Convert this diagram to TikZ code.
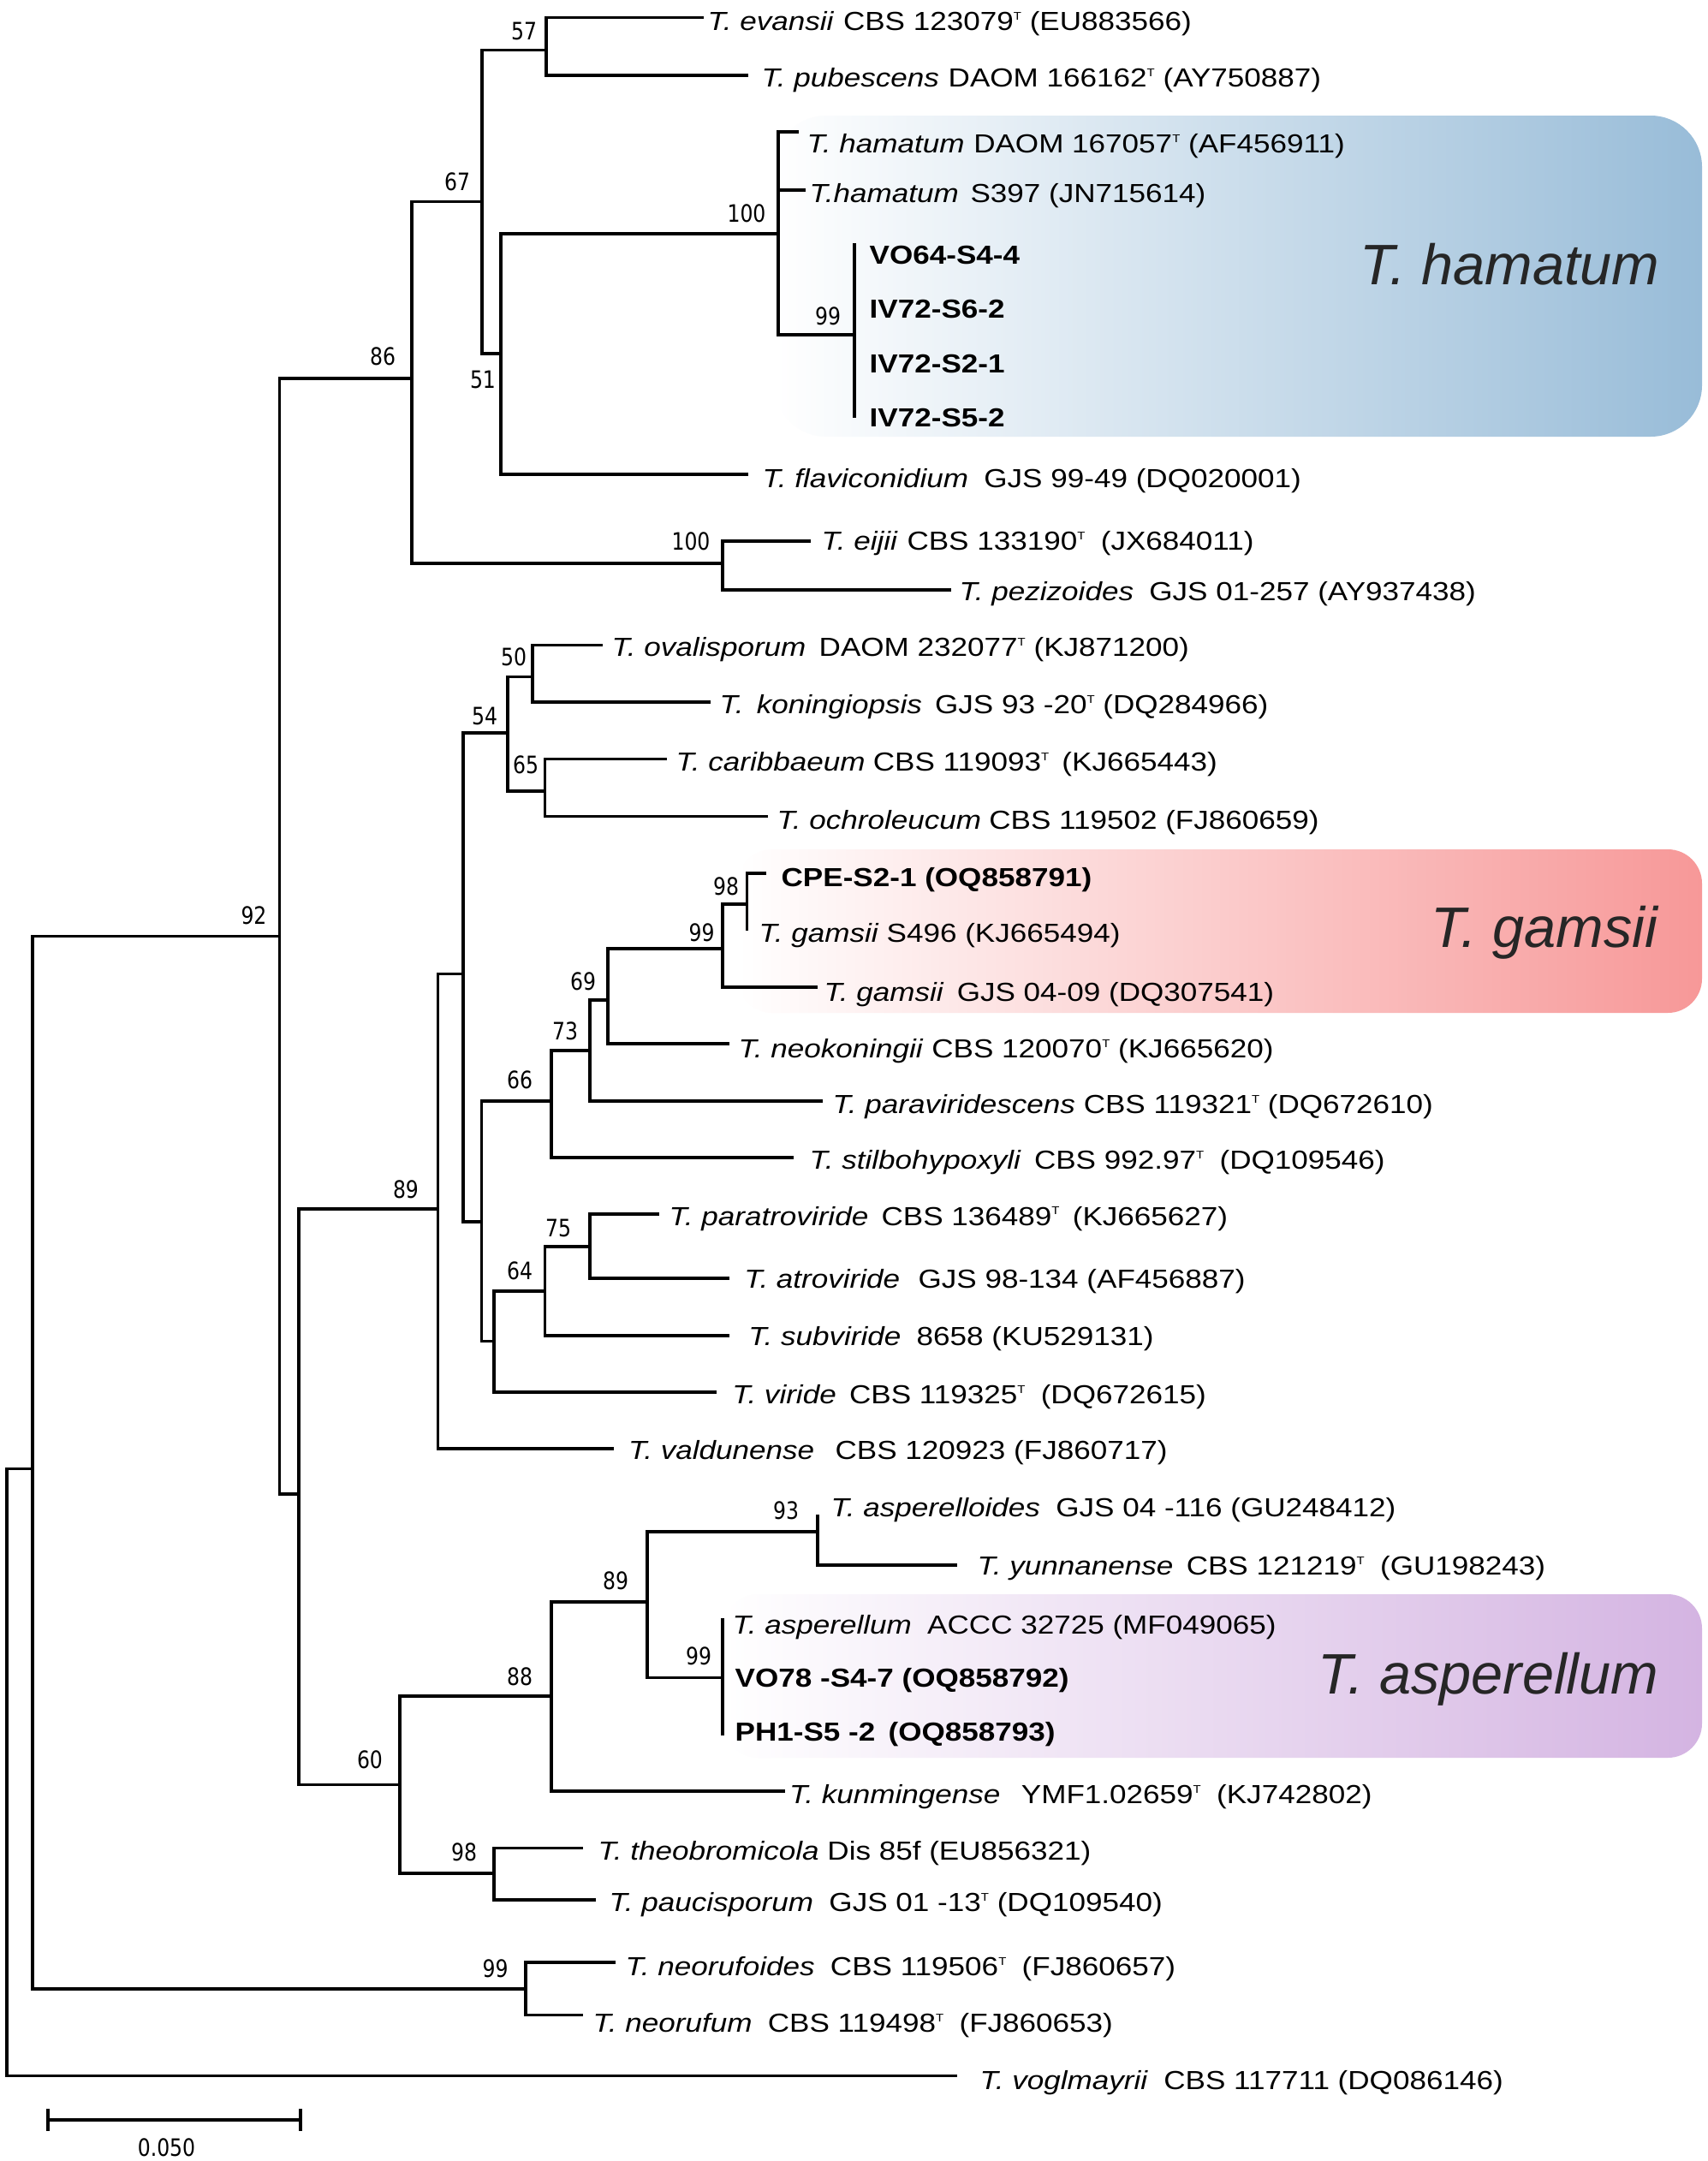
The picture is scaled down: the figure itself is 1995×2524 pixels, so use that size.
\documentclass[tikz,border=0pt]{standalone}
\usepackage{fontspec}
\setmainfont{Liberation Sans}[FakeStretch=1.15]
\newfontfamily\bsfont{DejaVu Sans}[FakeStretch=0.84]
\newfontfamily\cladefont{Liberation Sans}
\newcommand\typ{\raisebox{3.8pt}{\fontsize{3.9pt}{4pt}\selectfont T}}
\definecolor{hamblue}{RGB}{152,188,216}
\definecolor{gampink}{RGB}{247,152,152}
\definecolor{asplilac}{RGB}{212,180,226}
\begin{document}
\begin{tikzpicture}[x=0.3pt,y=-0.3pt,
  br/.style={line width=1.1pt, line cap=rect},
  tax/.style={anchor=base west, inner sep=0pt, font=\fontsize{9.15pt}{11pt}\selectfont},
  bs/.style={inner sep=0pt, font=\bsfont\fontsize{8.4pt}{10pt}\selectfont},
  clade/.style={anchor=base west, inner sep=0pt, font=\cladefont\itshape\fontsize{20pt}{24pt}\selectfont, text=black!85}]
\useasboundingbox (0,0) rectangle (1995,2524);
\fill[white] (0,0) rectangle (1995,2524);
% clade boxes
\shade[left color=white, right color=hamblue, rounded corners=18pt] (905,135) rectangle (1988,510);
\shade[left color=white, right color=gampink, rounded corners=12pt] (862,992) rectangle (1988,1183);
\shade[left color=white, right color=asplilac, rounded corners=12pt] (846,1862) rectangle (1988,2053);
% internal nodes
\coordinate (R) at (8,2070);
\coordinate (N38) at (38,1715.5);
\coordinate (N92) at (326.5,1093.5);
\coordinate (N86) at (481,442);
\coordinate (N67) at (563,235.5);
\coordinate (N57) at (638,58.4);
\coordinate (N51) at (585,413);
\coordinate (N100h) at (909,273);
\coordinate (N99h) at (998,391);
\coordinate (N100e) at (844,658);
\coordinate (NE) at (349,1745);
\coordinate (NA) at (511.5,1412);
\coordinate (NB) at (541,1137.5);
\coordinate (N54) at (593,856);
\coordinate (N50) at (622,790.6);
\coordinate (N65) at (636.5,924);
\coordinate (NC) at (562.5,1427);
\coordinate (N66) at (644,1286);
\coordinate (N73) at (689,1227);
\coordinate (N69) at (710,1168);
\coordinate (N99g) at (844,1108);
\coordinate (N98g) at (872.5,1056);
\coordinate (ND) at (577,1566.5);
\coordinate (N64) at (636.5,1508);
\coordinate (N75) at (689,1456);
\coordinate (N60) at (467,2084.5);
\coordinate (N88) at (644,1981);
\coordinate (N89b) at (756,1871);
\coordinate (N93) at (955,1789);
\coordinate (N99a) at (844,1959.5);
\coordinate (N98t) at (577,2188);
\coordinate (N99r) at (614,2323);
% tip ends
\coordinate (e1) at (820,20.4);
\coordinate (e2) at (872,88);
\coordinate (e3) at (931,154);
\coordinate (e4) at (939,222);
\coordinate (h5) at (998,286);
\coordinate (h8) at (998,486);
\coordinate (e9) at (872,554);
\coordinate (e10) at (945,632);
\coordinate (e11) at (1109,689);
\coordinate (e12) at (702,753.5);
\coordinate (e13) at (828,820);
\coordinate (e14) at (777,886.5);
\coordinate (e15) at (895,953.5);
\coordinate (e16) at (893,1020);
\coordinate (e17) at (872.5,1085);
\coordinate (e18) at (953.5,1153);
\coordinate (e19) at (850,1219);
\coordinate (e20) at (959,1286);
\coordinate (e21) at (925,1352);
\coordinate (e22) at (768.5,1418);
\coordinate (e23) at (850,1493);
\coordinate (e24) at (850,1560);
\coordinate (e25) at (835.5,1626);
\coordinate (e26) at (715.5,1692);
\coordinate (e27) at (955,1770.6);
\coordinate (e28) at (1116.5,1828);
\coordinate (a1) at (844,1892);
\coordinate (a3) at (844,2025);
\coordinate (e32) at (915,2092);
\coordinate (e33) at (679,2158.6);
\coordinate (e34) at (694,2219);
\coordinate (e35) at (717.5,2292);
\coordinate (e36) at (679,2353.4);
\coordinate (e37) at (1116.5,2424.6);
% branches
\draw[br] (R) |- (N38); \draw[br] (R) |- (e37);
\draw[br] (N38) |- (N92); \draw[br] (N38) |- (N99r);
\draw[br] (N92) |- (N86); \draw[br] (N92) |- (NE);
\draw[br] (N86) |- (N67); \draw[br] (N86) |- (N100e);
\draw[br] (N67) |- (N57); \draw[br] (N67) |- (N51);
\draw[br] (N57) |- (e1); \draw[br] (N57) |- (e2);
\draw[br] (N51) |- (N100h); \draw[br] (N51) |- (e9);
\draw[br] (N100h) |- (e3); \draw[br] (N100h) |- (e4); \draw[br] (N100h) |- (N99h);
\draw[br] (h5) -- (h8);
\draw[br] (N100e) |- (e10); \draw[br] (N100e) |- (e11);
\draw[br] (NE) |- (NA); \draw[br] (NE) |- (N60);
\draw[br] (NA) |- (NB); \draw[br] (NA) |- (e26);
\draw[br] (NB) |- (N54); \draw[br] (NB) |- (NC);
\draw[br] (N54) |- (N50); \draw[br] (N54) |- (N65);
\draw[br] (N50) |- (e12); \draw[br] (N50) |- (e13);
\draw[br] (N65) |- (e14); \draw[br] (N65) |- (e15);
\draw[br] (NC) |- (N66); \draw[br] (NC) |- (ND);
\draw[br] (N66) |- (N73); \draw[br] (N66) |- (e21);
\draw[br] (N73) |- (N69); \draw[br] (N73) |- (e20);
\draw[br] (N69) |- (N99g); \draw[br] (N69) |- (e19);
\draw[br] (N99g) |- (N98g); \draw[br] (N99g) |- (e18);
\draw[br] (N98g) |- (e16); \draw[br] (N98g) -- (e17);
\draw[br] (ND) |- (N64); \draw[br] (ND) |- (e25);
\draw[br] (N64) |- (N75); \draw[br] (N64) |- (e24);
\draw[br] (N75) |- (e22); \draw[br] (N75) |- (e23);
\draw[br] (N60) |- (N88); \draw[br] (N60) |- (N98t);
\draw[br] (N88) |- (N89b); \draw[br] (N88) |- (e32);
\draw[br] (N89b) |- (N93); \draw[br] (N89b) |- (N99a);
\draw[br] (N93) -- (e27); \draw[br] (N93) |- (e28);
\draw[br] (a1) -- (a3);
\draw[br] (N98t) |- (e33); \draw[br] (N98t) |- (e34);
\draw[br] (N99r) |- (e35); \draw[br] (N99r) |- (e36);
% taxa
\node[tax] (t1) at (826,35.9) {\textit{T. evansii}\hspace{0.35em}CBS 123079\typ{} (EU883566)};
\node[tax] (t2) at (889,101.9) {\textit{T. pubescens}\hspace{0.35em}DAOM 166162\typ{} (AY750887)};
\node[tax] (t3) at (942,178.9) {\textit{T. hamatum}\hspace{0.35em}DAOM 167057\typ{} (AF456911)};
\node[tax] (t4) at (945,236.4) {\textit{T.hamatum}\hspace{0.45em}S397 (JN715614)};
\node[tax] (t5) at (1015,308.9) {\textbf{VO64-S4-4}};
\node[tax] (t6) at (1015,371.9) {\textbf{IV72-S6-2}};
\node[tax] (t7) at (1015,435.4) {\textbf{IV72-S2-1}};
\node[tax] (t8) at (1015,498.9) {\textbf{IV72-S5-2}};
\node[tax] (t9) at (890,569.9) {\textit{T. flaviconidium}\hspace{0.6em}GJS 99-49 (DQ020001)};
\node[tax] (t10) at (959,642.9) {\textit{T. eijii}\hspace{0.35em}CBS 133190\typ{}\hspace{0.6em}(JX684011)};
\node[tax] (t11) at (1120,701.9) {\textit{T. pezizoides}\hspace{0.6em}GJS 01-257 (AY937438)};
\node[tax] (t12) at (714,766.9) {\textit{T. ovalisporum}\hspace{0.5em}DAOM 232077\typ{} (KJ871200)};
\node[tax] (t13) at (840,833.9) {\textit{T.\hspace{0.5em}koningiopsis}\hspace{0.5em}GJS 93 -20\typ{} (DQ284966)};
\node[tax] (t14) at (789,900.9) {\textit{T. caribbaeum}\hspace{0.3em}CBS 119093\typ{}\hspace{0.5em}(KJ665443)};
\node[tax] (t15) at (907,968.9) {\textit{T. ochroleucum}\hspace{0.3em}CBS 119502 (FJ860659)};
\node[tax] (t16) at (912,1035.9) {\textbf{CPE-S2-1 (OQ858791)}};
\node[tax] (t17) at (886,1100.9) {\textit{T. gamsii}\hspace{0.3em}S496 (KJ665494)};
\node[tax] (t18) at (962,1169.9) {\textit{T. gamsii}\hspace{0.5em}GJS 04-09 (DQ307541)};
\node[tax] (t19) at (862,1235.9) {\textit{T. neokoningii} CBS 120070\typ{} (KJ665620)};
\node[tax] (t20) at (972,1300.9) {\textit{T. paraviridescens} CBS 119321\typ{} (DQ672610)};
\node[tax] (t21) at (945,1365.9) {\textit{T. stilbohypoxyli}\hspace{0.5em}CBS 992.97\typ{}\hspace{0.6em}(DQ109546)};
\node[tax] (t22) at (781,1431.4) {\textit{T. paratroviride}\hspace{0.5em}CBS 136489\typ{}\hspace{0.5em}(KJ665627)};
\node[tax] (t23) at (868.6,1504.9) {\textit{T. atroviride}\hspace{0.7em}GJS 98-134 (AF456887)};
\node[tax] (t24) at (873.7,1571.9) {\textit{T. subviride}\hspace{0.6em}8658 (KU529131)};
\node[tax] (t25) at (854.6,1639.9) {\textit{T. viride}\hspace{0.5em}CBS 119325\typ{}\hspace{0.6em}(DQ672615)};
\node[tax] (t26) at (733.4,1704.9) {\textit{T. valdunense}\hspace{0.8em}CBS 120923 (FJ860717)};
\node[tax] (t27) at (970,1771.9) {\textit{T. asperelloides}\hspace{0.6em}GJS 04 -116 (GU248412)};
\node[tax] (t28) at (1141,1839.9) {\textit{T. yunnanense}\hspace{0.5em}CBS 121219\typ{}\hspace{0.6em}(GU198243)};
\node[tax] (t29) at (855,1908.9) {\textit{T. asperellum}\hspace{0.6em}ACCC 32725 (MF049065)};
\node[tax] (t30) at (858,1970.4) {\textbf{VO78 -S4-7 (OQ858792)}};
\node[tax] (t31) at (858,2033.9) {\textbf{PH1-S5 -2\hspace{0.5em}(OQ858793)}};
\node[tax] (t32) at (921.5,2106.9) {\textit{T. kunmingense}\hspace{0.8em}YMF1.02659\typ{}\hspace{0.6em}(KJ742802)};
\node[tax] (t33) at (698,2172.4) {\textit{T. theobromicola} Dis 85f (EU856321)};
\node[tax] (t34) at (711,2232.9) {\textit{T. paucisporum}\hspace{0.6em}GJS 01 -13\typ{} (DQ109540)};
\node[tax] (t35) at (730,2307.9) {\textit{T. neorufoides}\hspace{0.6em}CBS 119506\typ{}\hspace{0.6em}(FJ860657)};
\node[tax] (t36) at (692,2373.9) {\textit{T. neorufum}\hspace{0.6em}CBS 119498\typ{}\hspace{0.6em}(FJ860653)};
\node[tax] (t37) at (1144,2440.4) {\textit{T. voglmayrii}\hspace{0.6em}CBS 117711 (DQ086146)};
% clade labels
\node[clade] (cH) at (1588,332) {T. hamatum};
\node[clade] (cG) at (1671,1106) {T. gamsii};
\node[clade] (cA) at (1539,1978) {T. asperellum};
% bootstrap values
\node[bs] (b57) at (612,36) {57};
\node[bs] (b67) at (534,212) {67};
\node[bs] (b51) at (564,443) {51};
\node[bs] (b100h) at (872,249) {100};
\node[bs] (b99h) at (967,369) {99};
\node[bs] (b86) at (447,416) {86};
\node[bs] (b100e) at (807,632) {100};
\node[bs] (b92) at (296.5,1069) {92};
\node[bs] (b50) at (600,767) {50};
\node[bs] (b54) at (566,836) {54};
\node[bs] (b65) at (614,893) {65};
\node[bs] (b98g) at (848,1035.5) {98};
\node[bs] (b99g) at (819.5,1089) {99};
\node[bs] (b69) at (681,1146.5) {69};
\node[bs] (b73) at (660,1204) {73};
\node[bs] (b66) at (607,1261) {66};
\node[bs] (b89) at (474,1389) {89};
\node[bs] (b75) at (652,1434) {75};
\node[bs] (b64) at (607,1484) {64};
\node[bs] (b93) at (918,1764.5) {93};
\node[bs] (b89b) at (719,1846) {89};
\node[bs] (b88) at (607,1958) {88};
\node[bs] (b99a) at (816,1934) {99};
\node[bs] (b60) at (432,2055) {60};
\node[bs] (b98t) at (542,2163) {98};
\node[bs] (b99r) at (578.5,2299.6) {99};
% scale bar
\coordinate (sb1) at (56,2476);
\coordinate (sb2) at (351,2476);
\draw[br] (sb1) -- (sb2);
\draw[br] (sb1) ++(0,-11) -- ++(0,22);
\draw[br] (sb2) ++(0,-11) -- ++(0,22);
\node[bs] (sbl) at (194.5,2508) {0.050};
\end{tikzpicture}
\end{document}
